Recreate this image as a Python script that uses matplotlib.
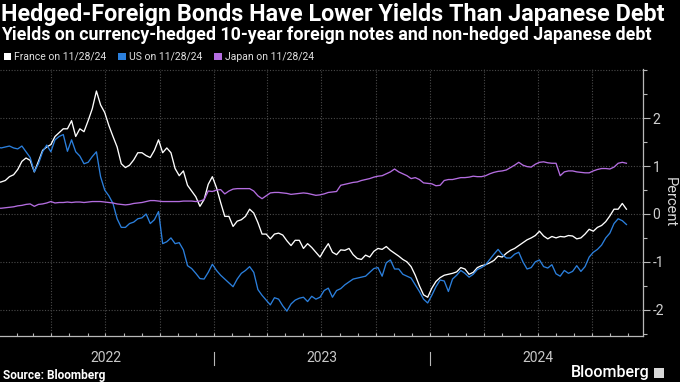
"""Hedged-foreign bond yields vs. non-hedged Japanese debt (Bloomberg style)."""

import matplotlib

matplotlib.use("Agg")
import matplotlib.dates as mdates  # noqa: E402
import matplotlib.pyplot as plt  # noqa: E402
import pandas as pd  # noqa: E402
from matplotlib.lines import Line2D  # noqa: E402
from matplotlib.patches import Patch, Rectangle  # noqa: E402
from matplotlib.transforms import blended_transform_factory  # noqa: E402

# --- Data (weekly readings, percent) ----------------------------------

DATES = pd.date_range(end="2024-11-28", periods=153, freq="7D")

FRANCE = [
    0.65, 0.67, 0.70, 0.78, 0.82, 0.93, 1.10, 1.17, 1.12, 0.88,
    1.10, 1.33, 1.40, 1.45, 1.62, 1.70, 1.78, 1.78, 1.95, 1.62,
    1.78, 1.72, 1.95, 2.20, 2.57, 2.28, 2.12, 1.85, 1.62, 1.40,
    1.05, 0.97, 1.02, 1.13, 1.28, 1.28, 1.22, 1.18, 1.33, 1.55,
    1.28, 1.38, 1.28, 0.95, 0.80, 0.90, 0.60, 0.48, 0.36, 0.16,
    0.30, 0.62, 0.78, 0.55, 0.24, -0.05, -0.05, -0.26, -0.15, -0.12,
    -0.05, 0.10, 0.02, -0.18, -0.42, -0.42, -0.52, -0.42, -0.40, -0.44,
    -0.56, -0.66, -0.55, -0.55, -0.72, -0.62, -0.70, -0.80, -0.90, -0.75,
    -0.62, -0.80, -0.85, -0.75, -0.76, -0.72, -0.85, -0.93, -0.95, -0.86,
    -0.90, -0.78, -0.72, -0.74, -0.68, -0.76, -0.82, -0.88, -0.95, -1.00,
    -1.10, -1.28, -1.50, -1.69, -1.74, -1.55, -1.41, -1.33, -1.28, -1.26,
    -1.24, -1.21, -1.12, -1.15, -1.26, -1.22, -1.12, -1.08, -1.06, -1.02,
    -0.97, -0.88, -0.90, -0.82, -0.76, -0.72, -0.66, -0.60, -0.54, -0.50,
    -0.45, -0.36, -0.46, -0.52, -0.47, -0.50, -0.47, -0.48, -0.45, -0.46,
    -0.52, -0.50, -0.42, -0.32, -0.36, -0.28, -0.24, -0.16, -0.04, 0.10,
    0.10, 0.22, 0.10,
]

US = [
    1.40, 1.38, 1.40, 1.42, 1.38, 1.36, 1.42, 1.30, 1.18, 0.88,
    1.05, 1.30, 1.44, 1.30, 1.55, 1.62, 1.66, 1.31, 1.55, 1.30,
    1.21, 1.05, 1.08, 1.20, 1.30, 0.78, 0.50, 0.38, 0.22, -0.10,
    -0.28, -0.28, -0.20, -0.17, -0.10, -0.08, 0.00, -0.20, -0.12, 0.05,
    -0.62, -0.58, -0.50, -0.62, -0.60, -0.75, -1.08, -1.14, -1.24, -1.35,
    -1.36, -1.22, -1.05, -1.18, -1.28, -1.36, -1.44, -1.52, -1.36, -1.24,
    -1.18, -1.10, -1.22, -1.58, -1.70, -1.80, -1.90, -1.75, -1.78, -1.92,
    -2.03, -1.88, -1.80, -1.76, -1.74, -1.83, -1.72, -1.78, -1.74, -1.60,
    -1.55, -1.74, -1.60, -1.56, -1.48, -1.42, -1.36, -1.34, -1.32, -1.30,
    -1.22, -1.14, -1.12, -1.30, -1.02, -0.96, -1.15, -1.15, -1.26, -1.30,
    -1.34, -1.48, -1.62, -1.78, -1.86, -1.70, -1.52, -1.38, -1.40, -1.62,
    -1.36, -1.28, -1.18, -1.24, -1.32, -1.26, -1.16, -1.12, -1.06, -0.95,
    -0.84, -0.74, -0.85, -0.92, -0.92, -0.84, -0.80, -1.00, -1.15, -1.12,
    -1.00, -0.96, -1.10, -1.13, -1.06, -1.25, -1.30, -1.18, -1.24, -1.20,
    -1.08, -1.20, -1.10, -0.90, -0.80, -0.74, -0.65, -0.50, -0.40, -0.20,
    -0.10, -0.14, -0.22,
]

JAPAN = [
    0.12, 0.12, 0.13, 0.14, 0.15, 0.17, 0.18, 0.20, 0.21, 0.16,
    0.20, 0.21, 0.23, 0.26, 0.23, 0.24, 0.24, 0.25, 0.24, 0.25,
    0.25, 0.24, 0.25, 0.26, 0.26, 0.26, 0.25, 0.24, 0.23, 0.21,
    0.20, 0.19, 0.20, 0.22, 0.23, 0.24, 0.26, 0.28, 0.28, 0.27,
    0.26, 0.26, 0.26, 0.26, 0.26, 0.27, 0.27, 0.27, 0.26, 0.27,
    0.30, 0.48, 0.47, 0.50, 0.51, 0.42, 0.48, 0.52, 0.53, 0.53,
    0.53, 0.53, 0.48, 0.38, 0.32, 0.38, 0.44, 0.45, 0.45, 0.44,
    0.43, 0.41, 0.42, 0.43, 0.44, 0.43, 0.41, 0.39, 0.40, 0.42,
    0.45, 0.46, 0.47, 0.60, 0.62, 0.64, 0.66, 0.67, 0.70, 0.72,
    0.74, 0.77, 0.79, 0.80, 0.84, 0.88, 0.94, 0.88, 0.84, 0.80,
    0.74, 0.76, 0.72, 0.65, 0.64, 0.63, 0.59, 0.60, 0.70, 0.72,
    0.72, 0.74, 0.76, 0.76, 0.77, 0.79, 0.78, 0.78, 0.80, 0.84,
    0.87, 0.89, 0.90, 0.92, 0.97, 1.02, 1.08, 1.02, 0.99, 0.98,
    1.04, 1.08, 1.09, 1.07, 1.06, 1.06, 0.80, 0.88, 0.90, 0.90,
    0.88, 0.87, 0.86, 0.86, 0.90, 0.93, 0.95, 0.95, 0.94, 0.98,
    1.06, 1.08, 1.06,
]

SERIES = [
    ("France on 11/28/24", FRANCE, "#ffffff"),
    ("US on 11/28/24", US, "#2b7fdc"),
    ("Japan on 11/28/24", JAPAN, "#b46de0"),
]

YEARS = [2022, 2023, 2024]
Y_TICKS = [-2, -1, 0, 1, 2]

TITLE = "Hedged-Foreign Bonds Have Lower Yields Than Japanese Debt"
SUBTITLE = "Yields on currency-hedged 10-year foreign notes and non-hedged Japanese debt"

BG = "#000000"
AXIS_GRAY = "#b8b8b8"
GRID_GRAY = "#4a4a4a"


def main() -> None:
    plt.rcParams["axes.unicode_minus"] = False
    plt.rcParams["font.family"] = ["Roboto", "DejaVu Sans"]

    fig = plt.figure(figsize=(6.8, 3.82), dpi=100, facecolor=BG)
    ax = fig.add_axes([0.0, 46 / 382, 643 / 680, 267 / 382], facecolor=BG)

    for label, values, color in SERIES:
        ax.plot(DATES, values, color=color, linewidth=0.95, label=label)

    # Axes limits
    ax.set_xlim(pd.Timestamp("2022-01-04"), pd.Timestamp("2024-12-26"))
    ax.set_ylim(-2.55, 3.03)

    # Right-hand value axis
    ax.yaxis.tick_right()
    ax.yaxis.set_label_position("right")
    ax.set_yticks(Y_TICKS)
    ax.set_yticks([-2.5, -1.5, -0.5, 0.5, 1.5, 2.5, 3.0], minor=True)
    ax.tick_params(axis="y", which="major", colors=AXIS_GRAY, labelcolor="#d0d0d0",
                   labelsize=10, length=5, width=0.8, pad=2)
    ax.tick_params(axis="y", which="minor", colors=AXIS_GRAY, length=3, width=0.8)
    ax.set_ylabel("Percent", color="#d8d8d8", fontsize=10.5, rotation=270, labelpad=9)

    # Time axis: monthly small ticks, year labels centred in each year
    ax.xaxis.set_minor_locator(mdates.MonthLocator())
    ax.set_xticks([pd.Timestamp(f"{y}-07-02") for y in YEARS])
    ax.set_xticklabels([str(y) for y in YEARS])
    ax.tick_params(axis="x", which="major", length=0, labelcolor="#c8c8c8",
                   labelsize=10, pad=11)
    ax.tick_params(axis="x", which="minor", colors=AXIS_GRAY, length=2.5,
                   width=0.8, direction="in")

    for side in ("top", "left"):
        ax.spines[side].set_visible(False)
    for side in ("right", "bottom"):
        ax.spines[side].set_color(AXIS_GRAY)
        ax.spines[side].set_linewidth(0.9)

    # Dotted grid: horizontal at integers, vertical at quarter starts
    for y in [-2, -1, 0, 1, 2, 3]:
        ax.axhline(y, color=GRID_GRAY, linestyle=(0, (1, 1.5)), linewidth=0.8, zorder=0)
    for q in pd.date_range("2022-04-01", "2024-10-01", freq="QS"):
        ax.axvline(q, color=GRID_GRAY, linestyle=(0, (1, 1.5)), linewidth=0.8, zorder=0)

    # Year separators below the axis
    trans = blended_transform_factory(ax.transData, ax.transAxes)
    for y in YEARS[1:]:
        x = mdates.date2num(pd.Timestamp(f"{y}-01-01"))
        ax.add_line(Line2D([x, x], [-0.06, -0.108], transform=trans, color=AXIS_GRAY,
                           linewidth=0.8, clip_on=False))

    # Titles
    fig.text(0.002, 1 - 15 / 382, TITLE, color="white", fontsize=16.8,
             fontweight="bold", va="center", ha="left")
    fig.text(0.002, 1 - 35 / 382, SUBTITLE, color="white", fontsize=12.8,
             fontweight="bold", va="center", ha="left")

    # Legend with square markers
    handles = [Patch(facecolor=c, edgecolor="none", label=l) for l, _, c in SERIES]
    fig.legend(handles=handles, loc="center left", bbox_to_anchor=(-0.004, 1 - 57 / 382),
               ncol=3, frameon=False, fontsize=7.5, labelcolor="#e0e0e0",
               handlelength=0.75, handleheight=0.75, handletextpad=0.3,
               columnspacing=1.1, borderpad=0.1)

    # Footer
    fig.text(0.004, 1 - 375 / 382, "Source: Bloomberg", color="white", fontsize=8.6,
             fontweight="bold", va="center", ha="left")
    fig.text(0.955, 1 - 373 / 382, "Bloomberg", color="white", fontsize=11.5,
             fontweight="medium", va="center", ha="right")
    fig.patches.append(Rectangle((654 / 680, 1 - 378 / 382), 10 / 680, 10 / 382,
                                 transform=fig.transFigure, facecolor="#d8d8d8",
                                 edgecolor="none"))

    fig.savefig("out.png", dpi=100, facecolor=BG)


if __name__ == "__main__":
    main()
